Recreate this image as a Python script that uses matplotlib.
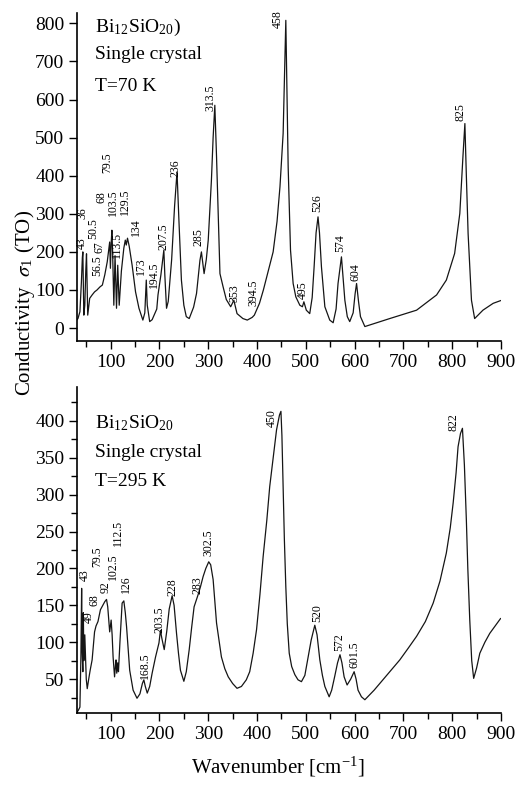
import numpy as np
import matplotlib
matplotlib.use('Agg')
from matplotlib import pyplot as plt
from matplotlib.ticker import MultipleLocator

plt.rcParams['font.family'] = ['Liberation Serif', 'DejaVu Serif']
plt.rcParams['mathtext.fontset'] = 'stix'

# 70 K spectrum (wavenumber, sigma_1)
top_x = [31, 33, 37, 40, 42, 43, 44, 45, 47, 49, 50.5, 52, 53, 55, 57, 62, 67, 72, 78, 83, 88, 93, 96, 98,
         99.5, 101, 102.5, 104, 106.5, 109, 112, 114.5, 117.5, 122, 127, 130, 132, 134.5, 138, 144, 151, 158,
         166, 170, 173, 175, 180, 185, 189, 194.5, 197, 203, 209, 211, 214.5, 218, 225, 231, 236, 240, 245,
         250, 255, 261, 270, 276, 283, 286, 291.5, 296, 300, 306.5, 310, 313.5, 317, 320, 324, 330.5, 337,
         346, 352.5, 359, 371, 380, 390, 394.5, 405, 413, 423, 433, 441, 447, 453.5, 457, 459, 461, 463.8,
         468.6, 474, 479.5, 487.7, 493, 496, 501, 508, 513, 517, 521, 525, 528, 532, 539, 549, 556, 562, 566,
         573, 577, 580, 585, 590, 597, 601, 604, 608, 612, 621, 672, 727, 768, 788, 805, 815.6, 822, 826, 829,
         832.6, 839.5, 846, 863, 884, 899]
top_y = [22, 25, 43, 120, 185, 200, 110, 34, 60, 150, 195, 90, 34, 55, 78, 87, 95, 100, 108, 113, 140, 174, 205, 226,
         157, 220, 257, 200, 60, 190, 52, 165, 60, 150, 210, 231, 218, 236, 215, 165, 95, 52,
         21, 40, 126, 60, 17, 22, 34, 50, 87, 140, 205, 140, 52, 70, 180, 320, 410, 280, 126,
         60, 30, 25, 55, 91, 178, 200, 143, 180, 231, 388, 500, 585, 450, 318, 143, 108, 75,
         56, 73, 38, 25, 21, 28, 34, 65, 100, 150, 200, 280, 371, 511, 700, 808, 650, 423,
         205, 117, 82, 60, 56, 69, 47, 38, 80, 161, 250, 292, 250, 161, 56, 21, 14, 50, 117,
         187, 120, 73, 30, 17, 40, 90, 117, 70, 30, 4, 25, 47, 87, 126, 196, 301, 450, 537, 400,
         248, 73, 25, 47, 65, 72]

# 295 K spectrum
bot_x = [31, 34, 37, 39, 40.5, 41.5, 43, 44, 45, 47, 48.5, 50, 52, 55, 58, 62, 67, 70, 74, 79, 84, 88, 91.5,
         94, 96, 98, 101, 103, 105, 108, 110, 111, 112.5, 114.5, 116, 119, 123.5, 127, 130, 132.6, 136, 139,
         146, 154, 160, 165, 168, 171, 175, 180, 185, 192, 199, 202, 205, 209.8, 215, 220, 226, 230, 235,
         239, 243, 250, 255, 261, 266, 271, 279, 284, 289.5, 295, 301, 305, 310, 317, 327, 334, 341, 350,
         359, 368, 378, 385, 392, 399, 406, 412.5, 420, 426, 433, 440, 446, 449, 451, 453.5, 456, 459, 462,
         466, 471, 477.5, 484, 491, 498, 504.7, 511, 518.4, 523, 528.7, 534, 539, 547.8, 553, 559, 565, 570,
         574, 578.5, 584.6, 592, 599, 603, 607, 614, 621, 640, 658, 675, 692.6, 710, 727, 745, 761, 775, 788,
         796, 802, 808, 812, 817, 821, 825, 829, 832, 836, 840, 844, 850, 856.6, 867, 877, 889, 899]
bot_y = [5, 8, 12, 80, 173, 90, 60, 140, 75, 110, 80, 50, 37, 50, 62, 76, 114, 122, 128, 144, 150, 155, 158,
         148, 130, 114, 130, 110, 80, 53, 70, 76, 58, 72, 60, 100, 153, 156, 140, 121, 90, 62,
         35, 24, 30, 44, 49, 40, 31, 40, 58, 80, 99, 116, 105, 90, 115, 145, 163, 150, 112,
         85, 62, 47, 60, 90, 120, 148, 164, 175, 189, 200, 209, 205, 185, 126, 80, 64, 53, 44,
         37.5, 40, 49, 60, 85, 117, 165, 216, 265, 311, 350, 388, 408, 413, 380, 311, 240, 175, 125,
         85, 67, 56, 49, 46.5, 55, 80, 103, 123, 110, 76, 55, 40, 26, 35, 53, 72, 83,
         72, 53, 42, 50, 60, 50, 35, 26, 22, 35, 49, 62, 76, 92, 108, 128, 153, 183, 221,
         255, 289, 330, 365, 383, 390, 340, 266, 200, 130, 75, 51, 65, 85, 100, 112, 123, 132]

top_peaks = ['36', '43', '50.5', '56.5', '67', '68', '79.5', '103.5', '113.5', '129.5', '134', '173', '194.5',
             '207.5', '236', '285', '313.5', '353', '394.5', '458', '495', '526', '574', '604', '825']
top_peak_pos = [(43, 302), (40, 223), (64, 262), (71.7, 165), (78, 212), (82, 344), (92, 433),
                (104.5, 328), (112.7, 218), (129, 331), (151.6, 265), (163, 162), (188, 140), (209, 239),
                (233.6, 420), (280.7, 239), (305, 604), (354.5, 92), (393.4, 92), (442.6, 812), (494, 100),
                (522.5, 328), (569.7, 223), (602.5, 147), (817.6, 567)]

bot_peaks = ['43', '49', '68', '79.5', '92', '102.5', '112.5', '126', '168.5', '203.5', '228', '283',
             '302.5', '450', '520', '572', '601.5', '822']
bot_peak_pos = [(47, 191), (55, 134), (67.6, 157), (71.7, 216), (90, 174), (104.5, 202), (114.8, 248),
                (131, 178), (170, 68), (201, 130), (227.5, 175), (278.7, 178), (301, 235), (430, 404),
                (522.5, 140), (567.6, 100), (600, 83), (803, 399)]

fig = plt.figure(figsize=(5.15, 7.94), dpi=100)
ax1 = fig.add_axes([0.1495, 0.5705, 0.8233, 0.413])
ax2 = fig.add_axes([0.1495, 0.102, 0.8233, 0.4106])

fs = 14
lc = '#151515'

for ax in (ax1, ax2):
    ax.spines['top'].set_visible(False)
    ax.spines['right'].set_visible(False)
    ax.set_xlim(31, 900)
    ax.xaxis.set_major_locator(MultipleLocator(100))
    ax.xaxis.set_minor_locator(MultipleLocator(50))
    ax.tick_params(which='major', direction='out', length=6, width=1, labelsize=fs, pad=3)
    ax.tick_params(which='minor', direction='out', length=4, width=1)
    for s in ax.spines.values():
        s.set_linewidth(1.2)

ax1.plot(top_x, top_y, color=lc, lw=0.9)
ax1.set_ylim(-34, 827)
ax1.yaxis.set_major_locator(MultipleLocator(100))
ax1.yaxis.set_minor_locator(MultipleLocator(1000))
for t, (px, py) in zip(top_peaks, top_peak_pos):
    ax1.text(px, py, t, rotation=90, fontsize=8.5, ha='center', va='center', clip_on=False)

ax2.plot(bot_x, bot_y, color=lc, lw=0.9)
ax2.set_ylim(4, 446)
ax2.yaxis.set_major_locator(MultipleLocator(50))
ax2.yaxis.set_minor_locator(MultipleLocator(25))
for t, (px, py) in zip(bot_peaks, bot_peak_pos):
    ax2.text(px, py, t, rotation=90, fontsize=8.5, ha='center', va='center', clip_on=False)

# sample info
ax1.text(0.043, 0.955, r'Bi$_{\mathregular{12}}$SiO$_{\mathregular{20}}$)', transform=ax1.transAxes,
         fontsize=fs, va='center')
ax1.text(0.043, 0.875, 'Single crystal', transform=ax1.transAxes, fontsize=fs, va='center')
ax1.text(0.043, 0.775, 'T=70 K', transform=ax1.transAxes, fontsize=fs, va='center')

ax2.text(0.043, 0.89, r'Bi$_{\mathregular{12}}$SiO$_{\mathregular{20}}$', transform=ax2.transAxes,
         fontsize=fs, va='center')
ax2.text(0.043, 0.80, 'Single crystal', transform=ax2.transAxes, fontsize=fs, va='center')
ax2.text(0.043, 0.71, 'T=295 K', transform=ax2.transAxes, fontsize=fs, va='center')

fig.text(25 / 515, 1 - 303 / 794, r'Conductivity  $\sigma_{\mathregular{1}}$ (TO)', rotation=90,
         fontsize=fs + 1, ha='center', va='center')
fig.text(278 / 515, 1 - 767 / 794, r'Wavenumber [cm$^{\mathregular{-1}}$]', fontsize=fs + 1,
         ha='center', va='center')

fig.savefig('out.png', dpi=100)
